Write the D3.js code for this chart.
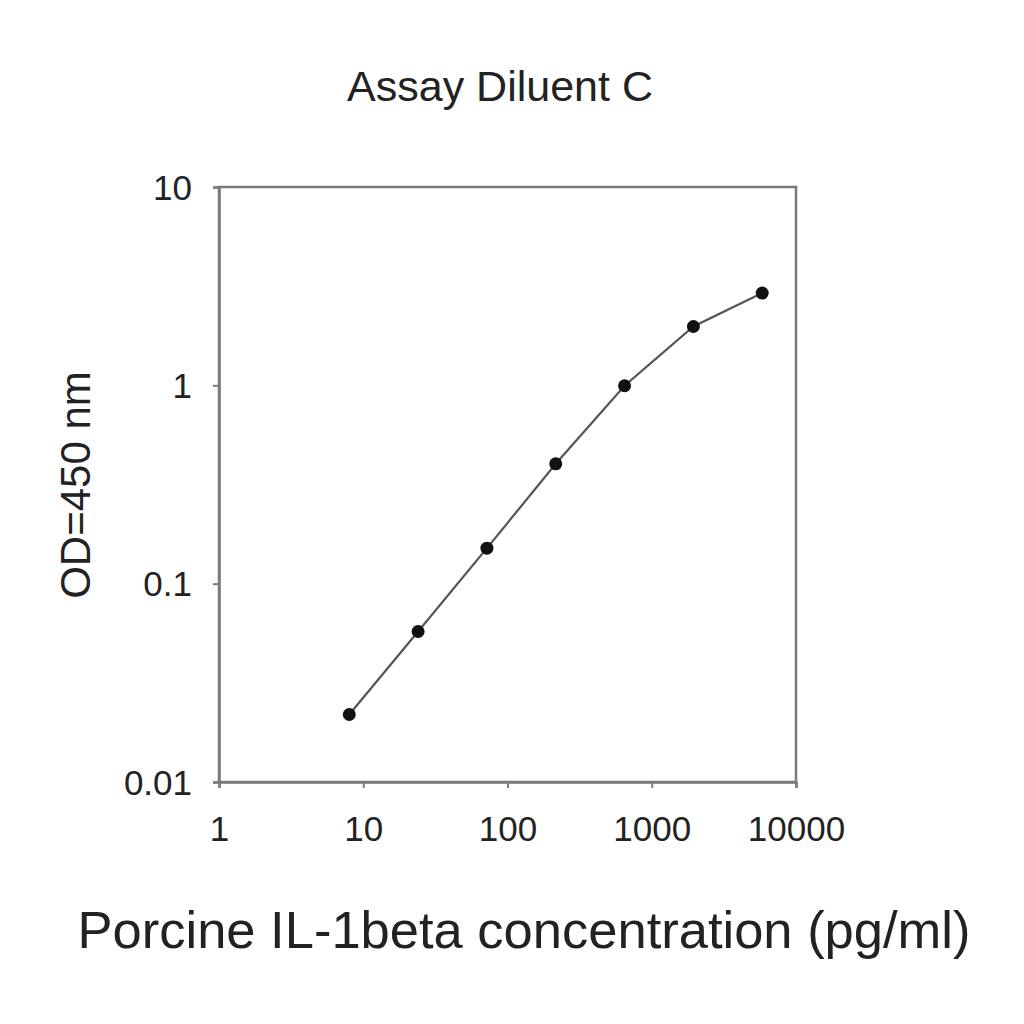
<!DOCTYPE html>
<html><head><meta charset="utf-8">
<script src="https://cdn.jsdelivr.net/npm/d3@7"></script>
<style>body{margin:0;background:#fff}</style>
</head><body>
<script>
const concentration = [8, 24, 72, 216, 648, 1944, 5832];
const od = [0.0219, 0.0574, 0.151, 0.402, 0.995, 1.98, 2.92];
const xTicks = [1, 10, 100, 1000, 10000];
const yTicks = [0.01, 0.1, 1, 10];
const yTickLabels = ["0.01", "0.1", "1", "10"];
const xTickLabels = ["1", "10", "100", "1000", "10000"];

const W = 1024, H = 1024;
const svg = d3.select("body").append("svg").attr("width", W).attr("height", H)
  .style("font-family", "'Liberation Sans', Arial, sans-serif");

const x = d3.scaleLog().domain([1, 10000]).range([219, 796]);
const y = d3.scaleLog().domain([0.01, 10]).range([782, 187]);

// box
svg.append("rect").attr("x", 219).attr("y", 187).attr("width", 796 - 219).attr("height", 782 - 187)
  .attr("fill", "none").attr("stroke", "#7a7a7a").attr("stroke-width", 2.5);

const xAxis = svg.append("g").attr("transform", "translate(0,782)")
  .call(d3.axisBottom(x).tickValues(xTicks).tickSize(6).tickPadding(28)
    .tickFormat((d, i) => xTickLabels[i]));
const yAxis = svg.append("g").attr("transform", "translate(219,0)")
  .call(d3.axisLeft(y).tickValues(yTicks).tickSize(6).tickPadding(21)
    .tickFormat((d, i) => yTickLabels[i]));
[xAxis, yAxis].forEach(a => {
  a.select(".domain").attr("stroke", "#7a7a7a").attr("stroke-width", 2.5);
  a.selectAll(".tick line").attr("stroke", "#7a7a7a").attr("stroke-width", 2);
  a.selectAll("text").attr("font-size", 35).attr("fill", "#222").attr("font-family", "'Liberation Sans', Arial, sans-serif");
});
yAxis.selectAll("text").attr("dy", "0.35em");

const data = concentration.map((c, i) => ({c, v: od[i]}));
svg.append("path").datum(data)
  .attr("d", d3.line().x(d => x(d.c)).y(d => y(d.v)))
  .attr("fill", "none").attr("stroke", "#555").attr("stroke-width", 2.2);
svg.selectAll("circle.pt").data(data).enter().append("circle")
  .attr("cx", d => x(d.c)).attr("cy", d => y(d.v)).attr("r", 6.5).attr("fill", "#111");

svg.append("text").attr("x", 500).attr("y", 101).attr("text-anchor", "middle")
  .attr("font-size", 43).attr("fill", "#222").text("Assay Diluent C");
svg.append("text").attr("x", 524).attr("y", 948).attr("text-anchor", "middle")
  .attr("font-size", 52.5).attr("fill", "#222").text("Porcine IL-1beta concentration (pg/ml)");
svg.append("text").attr("transform", "translate(90,485) rotate(-90)").attr("text-anchor", "middle")
  .attr("font-size", 42).attr("fill", "#222").text("OD=450 nm");
</script>
</body></html>
